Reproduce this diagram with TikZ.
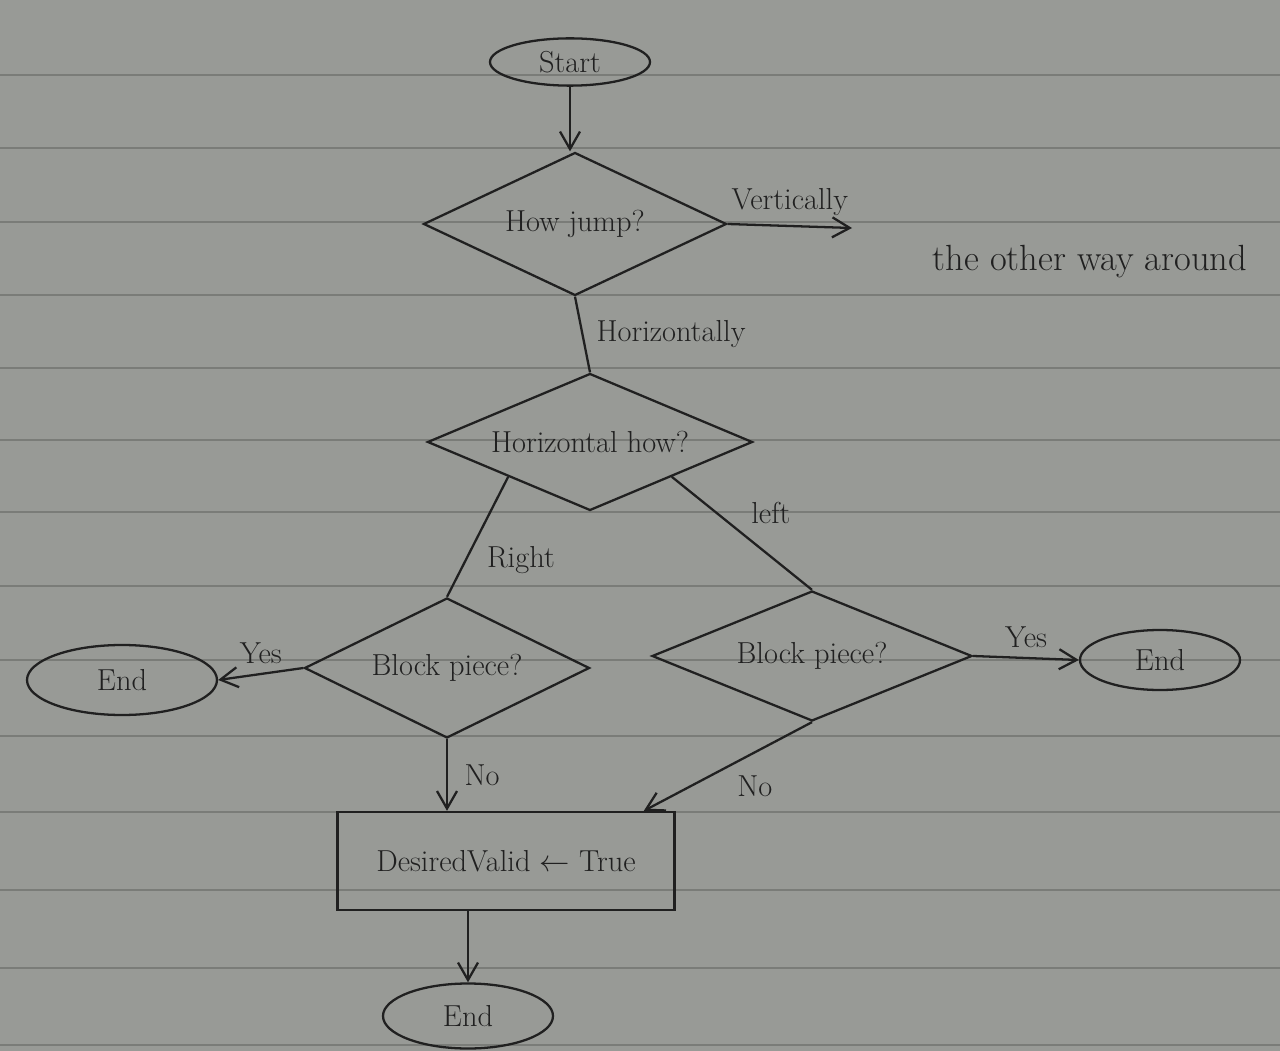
\documentclass[tikz,border=0pt]{standalone}
\usepackage{tikz}
\usetikzlibrary{arrows.meta,shapes.geometric,positioning,backgrounds}
\definecolor{paper}{RGB}{152,154,150}
\definecolor{rule}{RGB}{122,124,120}
\definecolor{pencil}{RGB}{32,32,32}
\tikzset{
  pen/.style={draw=pencil, line width=1.3pt},
  terminal/.style={pen, ellipse, minimum width=#1, font=\LARGE, text=pencil},
  terminal/.default=3.4cm,
  decision/.style={pen, diamond, aspect=2.2, inner sep=0pt, font=\LARGE, text=pencil},
  process/.style={pen, rectangle, minimum width=6.74cm, minimum height=1.96cm, font=\LARGE, text=pencil},
  flow/.style={pen, -{Straight Barb[length=3.5mm,width=4mm]}},
  link/.style={pen},
  lbl/.style={font=\LARGE, text=pencil}
}
\begin{document}
\begin{tikzpicture}[x=0.2mm,y=-0.2mm]
\useasboundingbox (0,0) rectangle (1280,1051);
\fill[paper] (0,0) rectangle (1280,1051);
% ruled lines of the sheet
\foreach \ry in {75,148,222,295,368,440,512,586,660,736,812,890,968,1045}
  \draw[rule, line width=0.7pt] (0,\ry) -- (1280,\ry);

% nodes
\node[terminal=3.2cm, minimum height=0.92cm] (start) at (570,62) {Start};
\node[decision, minimum width=6.06cm, minimum height=2.86cm] (howjump) at (575,224) {How jump?};
\node[decision, minimum width=6.5cm, minimum height=2.74cm] (horhow) at (590,442) {Horizontal how?};
\node[decision, minimum width=5.7cm, minimum height=2.8cm] (blockL) at (447,668) {Block piece?};
\node[decision, minimum width=6.4cm, minimum height=2.6cm] (blockR) at (812,656) {Block piece?};
\node[terminal=3.8cm, minimum height=1.4cm] (endL) at (122,680) {End};
\node[terminal=3.2cm, minimum height=1.2cm] (endR) at (1160,660) {End};
\node[process] (valid) at (506,861) {DesiredValid $\leftarrow$ True};
\node[terminal=3.4cm, minimum height=1.3cm] (endB) at (468,1016) {End};
\coordinate (vert) at (852,228);
\node[lbl, font=\huge] (other) at (1090,262) {the other way around};

% connectors
\draw[flow] (start.south) -- (start.south |- howjump.north);
\draw[flow] (howjump.east) -- node[lbl, above=2pt] {Vertically} (vert);
\draw[link] (howjump.south) -- node[lbl, right=4pt] {Horizontally} (horhow.north);
\draw[link] (horhow.south west) -- node[lbl, below right=2pt] {Right} (blockL.north);
\draw[link] (horhow.south east) -- node[lbl, above right=2pt] {left} (blockR.north);
\draw[flow] (blockL.west) -- node[lbl, above=2pt] {Yes} (endL.east);
\draw[flow] (blockR.east) -- node[lbl, above=2pt] {Yes} (endR.west);
\draw[flow] (blockL.south) -- node[lbl, right=6pt] {No} (blockL.south |- valid.north);
\draw[flow] (blockR.south) -- node[lbl, below right=2pt] {No} (valid.20);
\draw[flow] (endB.north |- valid.south) -- (endB.north);
\end{tikzpicture}
\end{document}
